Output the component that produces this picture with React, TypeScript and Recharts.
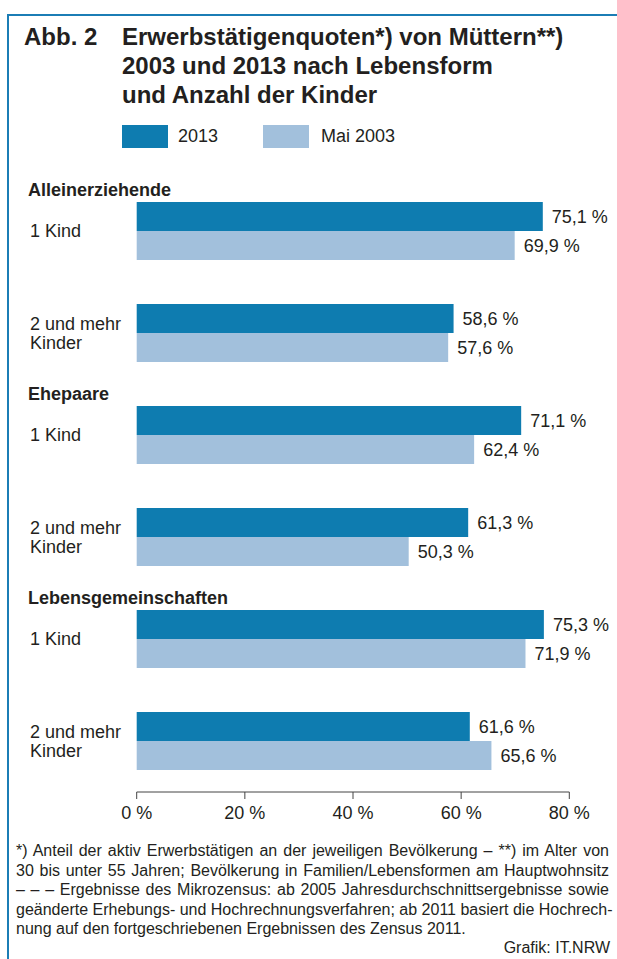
import React from 'react';
import { BarChart, Bar, XAxis, YAxis, LabelList } from 'recharts';

// Werte aus der Grafik (Erwerbstätigenquoten in %)
const groups = ['Alleinerziehende', '', 'Ehepaare', '', 'Lebensgemeinschaften', ''];
const categories = ['1 Kind', '2 und mehr\nKinder', '1 Kind', '2 und mehr\nKinder', '1 Kind', '2 und mehr\nKinder'];
const values2013 = [75.1, 58.6, 71.1, 61.3, 75.3, 61.6];
const values2003 = [69.9, 57.6, 62.4, 50.3, 71.9, 65.6];
const xTicks = [0, 20, 40, 60, 80];
const seriesNames = ['2013', 'Mai 2003'];

const titleLines = [
  'Erwerbstätigenquoten*) von Müttern**)',
  '2003 und 2013 nach Lebensform',
  'und Anzahl der Kinder',
];

const footnoteLines = [
  '*) Anteil der aktiv Erwerbstätigen an der jeweiligen Bevölkerung – **) im Alter von',
  '30 bis unter 55 Jahren; Bevölkerung in Familien/Lebensformen am Hauptwohnsitz',
  '– – – Ergebnisse des Mikrozensus: ab 2005 Jahresdurchschnittsergebnisse sowie',
  'geänderte Erhebungs- und Hochrechnungsverfahren; ab 2011 basiert die Hochrech-',
  'nung auf den fortgeschriebenen Ergebnissen des Zensus 2011.',
];

const DARK = '#0e7cb0';
const LIGHT = '#a2c0dc';
const TEXT = '#231f20';
const FONT = '"Liberation Sans", Arial, sans-serif';

const data = categories.map((c, i) => ({
  id: `c${i}`,
  label: c,
  group: groups[i],
  y2013: values2013[i],
  y2003: values2003[i],
}));

const fmt = (v: any) => `${Number(v).toFixed(1).replace('.', ',')} %`;

const CategoryTick = (props: any) => {
  const { y, payload } = props;
  const row = data[payload.index];
  const lines = row.label.split('\n');
  return (
    <g>
      {row.group && (
        <text x={28} y={y - 41} dy="0.35em" fontSize={18} fontWeight="bold" fill={TEXT} fontFamily={FONT}>
          {row.group}
        </text>
      )}
      {lines.map((l: string, i: number) => (
        <text
          key={i}
          x={30}
          y={y + (lines.length === 1 ? 0 : i === 0 ? -9 : 10)}
          dy="0.35em"
          fontSize={18}
          fill={TEXT}
          fontFamily={FONT}
        >
          {l}
        </text>
      ))}
    </g>
  );
};

export default function App() {
  const legendColors = [DARK, LIGHT];
  return (
    <div style={{ position: 'absolute', left: 0, top: 0, width: 617, height: 959, background: '#fff', fontFamily: FONT, color: TEXT, overflow: 'hidden' }}>
      {/* Rahmen */}
      <div style={{ position: 'absolute', left: 7, top: 14, width: 620, height: 960, borderTop: '2px solid #1b7db5', borderLeft: '2px solid #1b7db5' }} />

      {/* Titel */}
      <div style={{ position: 'absolute', left: 24, top: 22, fontSize: 24, fontWeight: 'bold', lineHeight: '29px' }}>Abb. 2</div>
      <div style={{ position: 'absolute', left: 122, top: 22, fontSize: 24, fontWeight: 'bold', lineHeight: '29px', whiteSpace: 'nowrap' }}>
        {titleLines.map(t => <div key={t}>{t}</div>)}
      </div>

      {/* Legende */}
      {seriesNames.map((n, i) => (
        <React.Fragment key={n}>
          <div style={{ position: 'absolute', left: 122 + i * 141, top: 125, width: 46, height: 23, background: legendColors[i] }} />
          <div style={{ position: 'absolute', left: 178 + i * 143, top: 126, fontSize: 18, lineHeight: '21px' }}>{n}</div>
        </React.Fragment>
      ))}

      <div style={{ position: 'absolute', left: 0, top: 0 }}>
        <BarChart
          width={617}
          height={832}
          data={data}
          layout="vertical"
          margin={{ top: 180, right: 47.7, left: 30, bottom: 0 }}
          barGap={0}
          barSize={29}
        >
          <XAxis
            type="number"
            domain={[0, 80]}
            ticks={xTicks}
            height={40}
            tickSize={7}
            tickMargin={7}
            stroke="#444"
            tick={{ fill: TEXT, fontSize: 18, fontFamily: FONT }}
            tickFormatter={(v) => `${v} %`}
          />
          <YAxis type="category" dataKey="id" width={106.7} axisLine={false} tickLine={false} tick={<CategoryTick />} />
          <Bar dataKey="y2013" name={seriesNames[0]} fill={DARK} isAnimationActive={false}>
            <LabelList dataKey="y2013" position="right" offset={9} formatter={fmt} fill={TEXT} fontSize={18} fontFamily={FONT} />
          </Bar>
          <Bar dataKey="y2003" name={seriesNames[1]} fill={LIGHT} isAnimationActive={false}>
            <LabelList dataKey="y2003" position="right" offset={9} formatter={fmt} fill={TEXT} fontSize={18} fontFamily={FONT} />
          </Bar>
        </BarChart>
      </div>

      {/* Fußnote */}
      <div style={{ position: 'absolute', left: 16, top: 841, width: 593, fontSize: 16, lineHeight: '19.5px' }}>
        {footnoteLines.map((l, i) => (
          <div
            key={i}
            style={{
              whiteSpace: 'nowrap',
              textAlign: 'justify',
              textAlignLast: i < footnoteLines.length - 1 ? 'justify' : 'left',
            }}
          >
            {l}
          </div>
        ))}
      </div>
      <div style={{ position: 'absolute', right: 7, top: 938, fontSize: 16, lineHeight: '20px' }}>Grafik: IT.NRW</div>
    </div>
  );
}
